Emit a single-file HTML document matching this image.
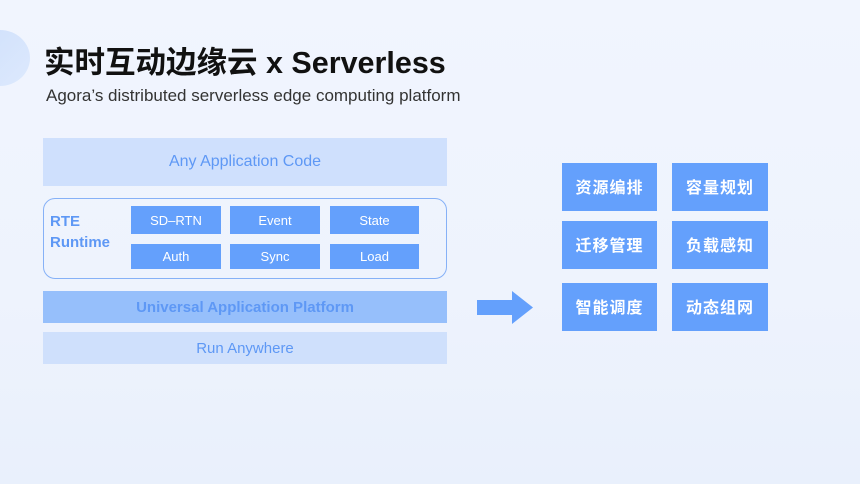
<!DOCTYPE html>
<html><head><meta charset="utf-8"><style>
*{margin:0;padding:0;box-sizing:border-box}
body{width:860px;height:484px;overflow:hidden;position:relative;background:linear-gradient(180deg,#f1f5fe 0%,#eef3fd 60%,#e9f0fc 100%);font-family:"Liberation Sans","Noto Sans CJK SC",sans-serif}
.a{position:absolute}
.c{display:flex;align-items:center;justify-content:center}
.sb{background:#64a0fc;color:#fff;font-size:13px}
.rb{background:#64a0fc;color:#fff;font-size:16px;font-weight:bold;letter-spacing:1px;padding-bottom:3px}
</style></head><body>
<div class="a" style="left:-30px;top:30px;width:60px;height:56px;border-radius:50%;background:linear-gradient(135deg,#cfe0fc,#dde9fd)"></div>
<div class="a" style="left:44px;top:38px;font-size:30.5px;font-weight:bold;color:#111;white-space:nowrap">实时互动边缘云 x Serverless</div>
<div class="a" style="left:46px;top:86px;font-size:17px;color:#333;white-space:nowrap">Agora’s distributed serverless edge computing platform</div>
<div class="a c" style="left:43px;top:138px;width:404px;height:48px;background:#cfe0fd;color:#5e98f5;font-size:16px">Any Application Code</div>
<div class="a" style="left:43px;top:198px;width:404px;height:81px;border:1.5px solid #86b1f7;border-radius:12px"></div>
<div class="a" style="left:50px;top:211px;color:#5e98f5;font-size:15px;font-weight:bold;line-height:21px">RTE<br>Runtime</div>
<div class="a c sb" style="left:131px;top:206px;width:90px;height:28px">SD–RTN</div>
<div class="a c sb" style="left:230px;top:206px;width:90px;height:28px">Event</div>
<div class="a c sb" style="left:330px;top:206px;width:89px;height:28px">State</div>
<div class="a c sb" style="left:131px;top:244px;width:90px;height:25px">Auth</div>
<div class="a c sb" style="left:230px;top:244px;width:90px;height:25px">Sync</div>
<div class="a c sb" style="left:330px;top:244px;width:89px;height:25px">Load</div>
<div class="a c" style="left:43px;top:291px;width:404px;height:32px;background:#96bffb;color:#5e98f5;font-size:15px;font-weight:bold">Universal Application Platform</div>
<div class="a c" style="left:43px;top:332px;width:404px;height:32px;background:#cfe0fc;color:#5e98f5;font-size:15px">Run Anywhere</div>
<svg class="a" style="left:476px;top:290px" width="60" height="36"><polygon points="1,10 36,10 36,1 57,17.5 36,34 36,25 1,25" fill="#64a0fc"/></svg>
<div class="a c rb" style="left:562px;top:163px;width:95px;height:48px">资源编排</div>
<div class="a c rb" style="left:672px;top:163px;width:96px;height:48px">容量规划</div>
<div class="a c rb" style="left:562px;top:221px;width:95px;height:48px">迁移管理</div>
<div class="a c rb" style="left:672px;top:221px;width:96px;height:48px">负载感知</div>
<div class="a c rb" style="left:562px;top:283px;width:95px;height:48px">智能调度</div>
<div class="a c rb" style="left:672px;top:283px;width:96px;height:48px">动态组网</div>
</body></html>
